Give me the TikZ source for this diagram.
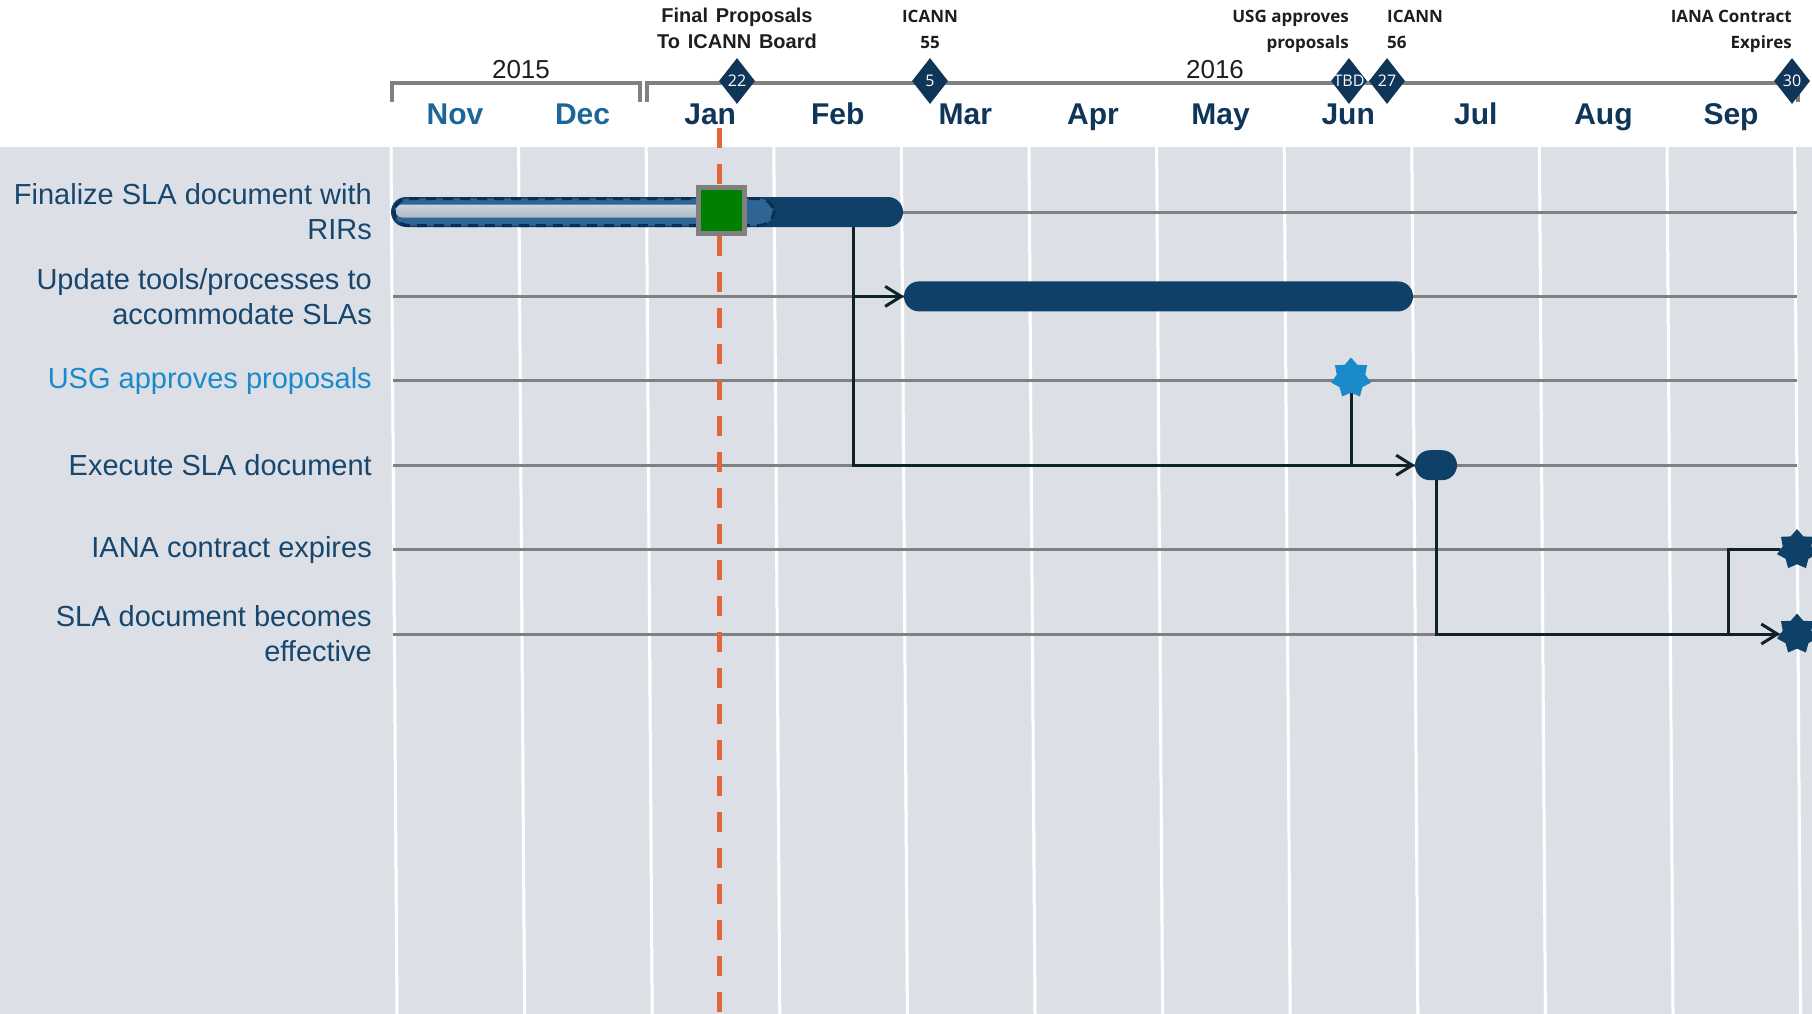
\documentclass[tikz,border=0pt]{standalone}
\usepackage{fontspec}
\setmainfont{Liberation Sans}
\newfontfamily\notefont{Open Sans}
\newfontfamily\boardfont[WordSpace=1.4]{Liberation Sans}
\usetikzlibrary{arrows.meta,calc,positioning,shapes}
\definecolor{navy}{HTML}{0E4068}
\definecolor{deepnavy}{HTML}{0B2E52}
\definecolor{midblue}{HTML}{2E6594}
\definecolor{monthnavy}{HTML}{0F3558}
\definecolor{oldmonth}{HTML}{1C6699}
\definecolor{lanetext}{HTML}{17466E}
\definecolor{skyblue}{HTML}{1B8ACB}
\definecolor{panel}{HTML}{DCE0E6}
\definecolor{rulegray}{HTML}{808080}
\definecolor{todayorange}{HTML}{E2663A}
\definecolor{linkdark}{HTML}{0E2229}
\definecolor{notetext}{HTML}{1E1E1E}
\definecolor{nowgreen}{HTML}{008000}
\definecolor{donetop}{HTML}{CDD5DC}
\definecolor{donebottom}{HTML}{AEBAC6}
\newdimen\coldim
\newdimen\rowdim
\newdimen\barh
\coldim=127.6pt
\rowdim=84.4pt
\barh=30pt
\tikzstyle{month}=[
  font={\fontsize{30}{30}\selectfont\bfseries},
  text=monthnavy,
  text height=22pt,
  text depth=6pt,
  inner sep=0pt,
]
\tikzstyle{pastmonth}=[
  month,
  text=oldmonth,
]
\tikzstyle{year}=[
  font={\fontsize{26}{26}\selectfont},
  text=notetext,
  inner sep=0pt,
]
\tikzstyle{yearbar}=[
  draw=rulegray,
  line width=4pt,
]
\tikzstyle{lane}=[
  font={\fontsize{29}{35}\selectfont},
  text=lanetext,
  align=right,
  anchor=east,
  inner sep=0pt,
]
\tikzstyle{lanerule}=[
  draw=rulegray,
  line width=3pt,
]
\tikzstyle{colrule}=[
  draw=white,
  line width=3pt,
]
\tikzstyle{bar}=[
  rectangle,
  fill=navy,
  rounded corners=.5\barh,
  minimum height=\barh,
  inner sep=0pt,
  outer sep=0pt,
]
\tikzstyle{progress}=[
  bar,
  fill=midblue,
  draw=deepnavy,
  line width=3pt,
  dash pattern=on 10pt off 7pt,
  minimum height=\barh-3pt,
]
\tikzstyle{donefill}=[
  rectangle,
  rounded corners=6pt,
  minimum height=13pt,
  inner sep=0pt,
  top color=donetop,
  bottom color=donebottom,
]
\tikzstyle{nowbox}=[
  rectangle,
  fill=nowgreen,
  draw=rulegray,
  line width=5pt,
  minimum size=46pt,
  inner sep=0pt,
]
\tikzstyle{milestone}=[
  diamond,
  fill=monthnavy,
  minimum width=36pt,
  minimum height=46pt,
  inner sep=0pt,
]
\tikzstyle{mstext}=[
  text=white,
  font={\notefont\fontsize{16}{16}\selectfont},
  inner sep=0pt,
]
\tikzstyle{note}=[
  font={\notefont\fontsize{17}{26}\selectfont\bfseries},
  text=notetext,
  text depth=0pt,
  inner sep=0pt,
]
\tikzstyle{boardnote}=[
  note,
  font={\boardfont\fontsize{20}{26}\selectfont\bfseries},
]
\tikzstyle{event}=[
  star,
  star points=7,
  star point ratio=1.4,
  fill=navy,
  minimum size=41pt,
  inner sep=0pt,
]
\tikzstyle{link}=[
  draw=linkdark,
  line width=3pt,
]
\tikzstyle{todayline}=[
  draw=todayorange,
  line width=5pt,
  dash pattern=on 20pt off 16pt,
]
\tikzset{
  node distance=\coldim,
  >={Straight Barb[length=16pt,width=20pt]},
}
\begin{document}
\begin{tikzpicture}[x=1pt, y=-1pt]
  \useasboundingbox (0,0) rectangle (1812,1014);
  \fill [panel] (0,147) rectangle (1812,1014);
  \foreach \i in {0,...,11}
    \draw [colrule] ({391+127.6*\i},147) -- ({397+127.6*\i},1014);
  \foreach \y in {212,296.4,380.8,465.2,549.6,634}
    \draw [lanerule] (393,\y) -- (1797,\y);
  %% years and months
  \draw [yearbar] (392,102) -- (392,83) -- (640,83) -- (640,102);
  \draw [yearbar] (647,102) -- (647,83) -- (1798,83) -- (1798,102);
  \node (y2015) [year] at (521,70) {2015};
  \node (y2016) [year] at (1215,70) {2016};
  \node (nov) [pastmonth] at (455,116.5) {Nov};
  \node (dec) [pastmonth, right of=nov] {Dec};
  \node (jan) [month, right of=dec] {Jan};
  \node (feb) [month, right of=jan] {Feb};
  \node (mar) [month, right of=feb] {Mar};
  \node (apr) [month, right of=mar] {Apr};
  \node (may) [month, right of=apr] {May};
  \node (jun) [month, right of=may] {Jun};
  \node (jul) [month, right of=jun] {Jul};
  \node (aug) [month, right of=jul] {Aug};
  \node (sep) [month, right of=aug] {Sep};
  %% milestones
  \node (ms22) [milestone, label={[mstext]center:22}] at (737,81) {};
  \node (ms5) [milestone, label={[mstext]center:5}] at (930,81) {};
  \node (mstbd) [milestone, label={[mstext]center:TBD}] at (1349,81) {};
  \node (ms27) [milestone, label={[mstext]center:27}] at (1387,81) {};
  \node (ms30) [milestone, label={[mstext]center:30}] at (1792,81) {};
  \node (board) [boardnote, align=center, above=9pt of ms22] {Final Proposals\\To ICANN Board};
  \node (icann55) [note, align=center, above=9pt of ms5] {ICANN\\55};
  \node (usgnote) [note, align=right, above=9pt of mstbd, anchor=south east] {USG approves\\proposals};
  \node (icann56) [note, align=left, above=9pt of ms27, anchor=south west] {ICANN\\56};
  \node (iananote) [note, align=right, above=9pt of ms30, anchor=south east] {IANA Contract\\Expires};
  %% lanes
  \node (lane1) [lane] at (372,212) {Finalize SLA document with\\RIRs};
  \node (lane2) [lane] at (372,296.4) {Update tools/processes to\\accommodate SLAs};
  \node (lane3) [lane, text=skyblue] at (372,380.8) {USG approves proposals};
  \node (lane4) [lane] at (372,465.2) {Execute SLA document};
  \node (lane5) [lane] at (372,549.6) {IANA contract expires};
  \node (lane6) [lane] at (372,634) {SLA document becomes\\effective};
  %% bars
  \node (finalize) [bar, minimum width=512pt] at (647,212) {};
  \node (done) [progress, minimum width=380pt] at (584,212) {};
  \node (donefill) [donefill, minimum width=330pt] at (561,211) {};
  \node (update) [bar, minimum width=509pt] at (1158.5,296.4) {};
  \node (execute) [bar, minimum width=42pt] at (1436,465.2) {};
  \draw [todayline] (719,128) -- (719,1014);
  \node (now) [nowbox] at (721,210) {};
  \node (usg) [event, fill=skyblue] at (1351,378) {};
  \node (iana) [event] at (1797,549.6) {};
  \node (effective) [event] at (1797,634) {};
  %% links
  \coordinate (split) at (853,465.2);
  \coordinate (merge) at (1728,634);
  \draw [link, ->] (finalize.south -| split) -- (split) -- (execute.west);
  \draw [link, ->] (split |- update.west) -- (update.west);
  \draw [link] (usg.south) -- (usg.south |- execute.west);
  \draw [link, ->] (execute.south) -- (execute.south |- effective.west) -- (effective.west);
  \draw [link] (iana.west) -| (merge);
\end{tikzpicture}
\end{document}
